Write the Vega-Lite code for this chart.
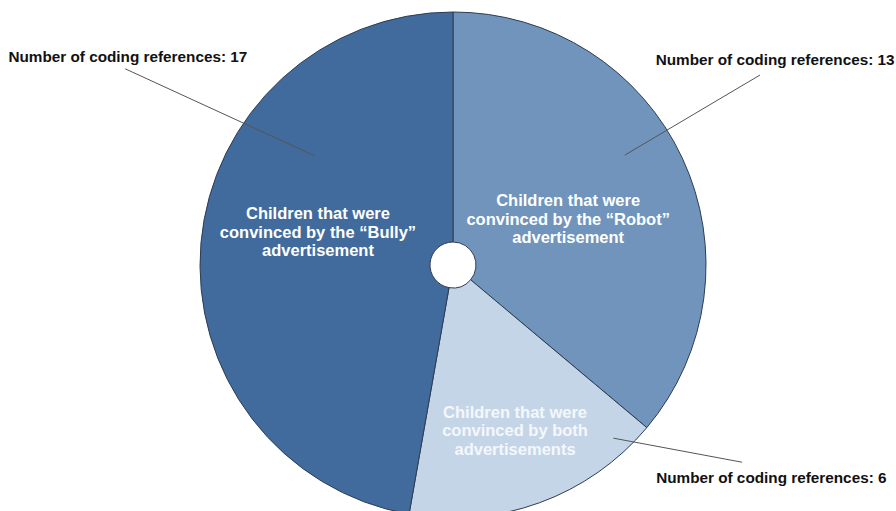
{
  "$schema": "https://vega.github.io/schema/vega-lite/v6.json",
  "width": 886,
  "height": 492,
  "padding": {"left": 10, "top": 19, "right": 0, "bottom": 0},
  "autosize": {"type": "none"},
  "background": "white",
  "config": {"view": {"stroke": null}, "text": {"font": "Liberation Sans"}},
  "data": {
    "values": [
      {"cat": "Robot", "ord": 1, "n": 13, "label": "Children that were|convinced by the “Robot”|advertisement"},
      {"cat": "Both", "ord": 2, "n": 6, "label": "Children that were|convinced by both|advertisements"},
      {"cat": "Bully", "ord": 3, "n": 17, "label": "Children that were|convinced by the “Bully”|advertisement"}
    ]
  },
  "transform": [
    {"stack": "n", "groupby": [], "sort": [{"field": "ord", "order": "ascending"}], "as": ["n0", "n1"]},
    {"calculate": "(datum.n0 + datum.n1) / 2", "as": "mid"},
    {"calculate": "'Number of coding references: ' + datum.n", "as": "refs"}
  ],
  "layer": [
    {
      "mark": {"type": "arc", "radius": 253, "radius2": 23, "stroke": "#2f3d52", "strokeWidth": 1},
      "encoding": {
        "theta": {"field": "n0", "type": "quantitative", "scale": {"domain": [0, 36], "range": [0, 6.283185307]}},
        "theta2": {"field": "n1"},
        "color": {"field": "cat", "type": "nominal", "scale": {"domain": ["Robot", "Both", "Bully"], "range": ["#7094bb", "#c5d5e8", "#416b9c"]}, "legend": null}
      }
    },
    {
      "transform": [
        {"calculate": "datum.cat === 'Robot' ? -7.6 : datum.cat === 'Both' ? -22.8 : 33.3", "as": "o1"},
        {"calculate": "datum.cat === 'Robot' ? -6.75 : datum.cat === 'Both' ? -35.7 : 25.9", "as": "o2"},
        {"calculate": "datum.cat === 'Robot' ? 204 : datum.cat === 'Both' ? 236 : 176", "as": "r1"},
        {"calculate": "datum.cat === 'Robot' ? 361 : datum.cat === 'Both' ? 350 : 382", "as": "r2"},
        {"calculate": "datum.r1 * sin((datum.mid * 10 + datum.o1) * PI / 180)", "as": "x1"},
        {"calculate": "datum.r1 * cos((datum.mid * 10 + datum.o1) * PI / 180)", "as": "y1"},
        {"calculate": "datum.r2 * sin((datum.mid * 10 + datum.o2) * PI / 180)", "as": "x2"},
        {"calculate": "datum.r2 * cos((datum.mid * 10 + datum.o2) * PI / 180)", "as": "y2"}
      ],
      "mark": {"type": "rule", "color": "#555555", "strokeWidth": 1},
      "encoding": {
        "x": {"field": "x1", "type": "quantitative", "scale": {"domain": [-443, 443]}, "axis": null},
        "y": {"field": "y1", "type": "quantitative", "scale": {"domain": [-246, 246]}, "axis": null},
        "x2": {"field": "x2"},
        "y2": {"field": "y2"}
      }
    },
    {
      "transform": [{"filter": "datum.cat === 'Robot'"}],
      "mark": {"type": "text", "radius": 124, "thetaOffset": 0.056, "dy": -17.5, "fontSize": 16.5, "fontWeight": "bold", "color": "white", "lineBreak": "|", "lineHeight": 18.5, "align": "center", "baseline": "middle"},
      "encoding": {
        "theta": {"field": "mid", "type": "quantitative", "stack": null, "scale": {"domain": [0, 36], "range": [0, 6.283185307]}},
        "text": {"field": "label"}
      }
    },
    {
      "transform": [{"filter": "datum.cat === 'Both'"}],
      "mark": {"type": "text", "radius": 177, "thetaOffset": -0.009, "dy": -18, "fontSize": 16.5, "fontWeight": "bold", "color": "#f4f7fb", "lineBreak": "|", "lineHeight": 18.5, "align": "center", "baseline": "middle"},
      "encoding": {
        "theta": {"field": "mid", "type": "quantitative", "stack": null, "scale": {"domain": [0, 36], "range": [0, 6.283185307]}},
        "text": {"field": "label"}
      }
    },
    {
      "transform": [{"filter": "datum.cat === 'Bully'"}],
      "mark": {"type": "text", "radius": 139, "thetaOffset": 0.152, "dy": -18, "fontSize": 16.5, "fontWeight": "bold", "color": "white", "lineBreak": "|", "lineHeight": 18.5, "align": "center", "baseline": "middle"},
      "encoding": {
        "theta": {"field": "mid", "type": "quantitative", "stack": null, "scale": {"domain": [0, 36], "range": [0, 6.283185307]}},
        "text": {"field": "label"}
      }
    },
    {
      "transform": [{"filter": "datum.cat === 'Robot'"}],
      "mark": {"type": "text", "radius": 382, "thetaOffset": -0.131, "fontSize": 15.3, "fontWeight": "bold", "color": "#111111", "align": "center", "baseline": "middle"},
      "encoding": {
        "theta": {"field": "mid", "type": "quantitative", "stack": null, "scale": {"domain": [0, 36], "range": [0, 6.283185307]}},
        "text": {"field": "refs"}
      }
    },
    {
      "transform": [{"filter": "datum.cat === 'Both'"}],
      "mark": {"type": "text", "radius": 383, "thetaOffset": -0.632, "fontSize": 15.3, "fontWeight": "bold", "color": "#111111", "align": "center", "baseline": "middle"},
      "encoding": {
        "theta": {"field": "mid", "type": "quantitative", "stack": null, "scale": {"domain": [0, 36], "range": [0, 6.283185307]}},
        "text": {"field": "refs"}
      }
    },
    {
      "transform": [{"filter": "datum.cat === 'Bully'"}],
      "mark": {"type": "text", "radius": 386, "thetaOffset": 0.482, "fontSize": 15.3, "fontWeight": "bold", "color": "#111111", "align": "center", "baseline": "middle"},
      "encoding": {
        "theta": {"field": "mid", "type": "quantitative", "stack": null, "scale": {"domain": [0, 36], "range": [0, 6.283185307]}},
        "text": {"field": "refs"}
      }
    }
  ]
}
